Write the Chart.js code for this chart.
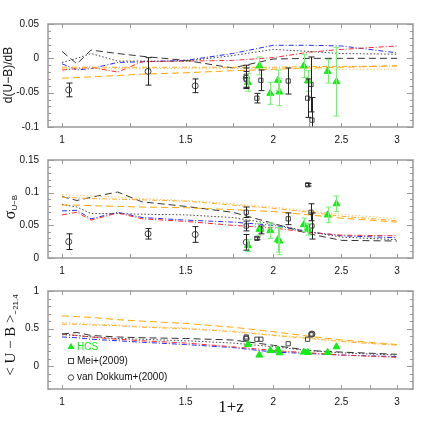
<!DOCTYPE html>
<html>
<head>
<meta charset="utf-8">
<script src="https://cdn.jsdelivr.net/npm/chart.js@4.4.1/dist/chart.umd.min.js"></script>
<style>
html, body { margin: 0; padding: 0; background: #fff; }
#wrap { position: relative; width: 436px; height: 436px; }
canvas { position: absolute; left: 0; }
</style>
</head>
<body>
<div id="wrap">
  <canvas id="c1" width="436" height="145" style="top:0px"></canvas>
  <canvas id="c2" width="436" height="131" style="top:145px"></canvas>
  <canvas id="c3" width="436" height="160" style="top:276px"></canvas>
</div>
<script>
// redshift nodes (1+z) of the model curves
const xNodes = [1.0, 1.05, 1.1, 1.2, 1.3, 1.5, 1.75, 2.0, 2.25, 2.5, 3.0];

// x axis ticks
const xTicks = [1, 1.25, 1.5, 1.75, 2, 2.25, 2.5, 2.75, 3];
const xLabels = [1, 1.5, 2, 2.5, 3];

// panel 1: slope d(U-B)/dB
const slopeBlackDashed = [0.010, -0.008, 0.012, 0.007, 0.003, -0.003, -0.014, -0.001, 0.0, 0.0, 0.0];
const slopeBlackDotted = [-0.006, 0.0, 0.007, -0.004, -0.004, -0.004, 0.004, 0.013, 0.010, 0.007, 0.006];
const slopeBlue = [-0.008, -0.017, -0.015, -0.006, -0.005, -0.003, 0.007, 0.019, 0.019, 0.018, 0.008];
const slopeRed = [-0.017, -0.015, -0.013, -0.020, -0.005, -0.004, -0.003, 0.001, 0.009, 0.013, 0.018];
const slopeOrangeDashed = [-0.029, -0.028, -0.027, -0.025, -0.023, -0.021, -0.018, -0.016, -0.014, -0.013, -0.011];
const slopeOrangeDashDot = [-0.013, -0.013, -0.013, -0.013, -0.013, -0.013, -0.013, -0.013, -0.012, -0.012, -0.011];
const slopeOrangeDotted = [-0.015, -0.015, -0.015, -0.015, -0.015, -0.015, -0.015, -0.015, -0.015, -0.016, -0.016];

// panel 2: scatter sigma(U-B)
const sigBlackDashed = [0.094, 0.088, 0.093, 0.101, 0.086, 0.079, 0.070, 0.053, 0.037, 0.027, 0.026];
const sigBlackDotted = [0.082, 0.078, 0.068, 0.068, 0.067, 0.066, 0.062, 0.052, 0.040, 0.032, 0.028];
const sigBlue = [0.072, 0.073, 0.060, 0.070, 0.062, 0.058, 0.055, 0.050, 0.040, 0.034, 0.031];
const sigRed = [0.066, 0.070, 0.058, 0.069, 0.060, 0.056, 0.050, 0.046, 0.039, 0.035, 0.034];
const sigOrangeDashed = [0.081, 0.081, 0.080, 0.079, 0.078, 0.077, 0.074, 0.071, 0.066, 0.061, 0.055];
const sigOrangeDashDot = [0.093, 0.092, 0.091, 0.090, 0.089, 0.087, 0.081, 0.076, 0.070, 0.064, 0.057];
const sigOrangeDotted = [0.097, 0.096, 0.095, 0.093, 0.091, 0.088, 0.083, 0.078, 0.072, 0.067, 0.060];

// panel 3: mean colour <U-B> at M = -21.4
const colBlackDashed = [0.43, 0.45, 0.41, 0.39, 0.38, 0.37, 0.35, 0.28, 0.21, 0.19, 0.16];
const colBlackDotted = [0.42, 0.41, 0.39, 0.37, 0.36, 0.34, 0.31, 0.26, 0.21, 0.18, 0.15];
const colBlue = [0.39, 0.38, 0.36, 0.34, 0.32, 0.29, 0.25, 0.19, 0.17, 0.15, 0.13];
const colRed = [0.43, 0.41, 0.39, 0.36, 0.34, 0.31, 0.26, 0.21, 0.18, 0.15, 0.12];
const colOrangeDashed = [0.67, 0.66, 0.65, 0.62, 0.60, 0.57, 0.52, 0.46, 0.40, 0.35, 0.29];
const colOrangeDashDot = [0.56, 0.56, 0.55, 0.54, 0.52, 0.50, 0.46, 0.41, 0.37, 0.33, 0.28];
const colOrangeDotted = [0.58, 0.57, 0.56, 0.55, 0.53, 0.51, 0.47, 0.42, 0.38, 0.34, 0.29];

// HCS clusters
const hcsZ = [1.84, 1.91, 1.98, 2.03, 2.04, 2.21, 2.24, 2.39, 2.46];
const hcsSlope = [-0.035, -0.011, -0.051, -0.032, -0.049, -0.011, -0.033, -0.019, -0.034];
const hcsSlopeErr = [0.013, 0.013, 0.016, 0.015, 0.020, 0.017, 0.015, 0.017, 0.050];
const hcsSig = [0.019, 0.044, 0.042, 0.028, 0.026, 0.051, 0.044, 0.066, 0.083];
const hcsSigErr = [0.009, 0.009, 0.012, 0.019, 0.021, 0.010, 0.009, 0.012, 0.012];
const hcsCol = [0.29, 0.15, 0.21, 0.22, 0.18, 0.19, 0.185, 0.185, 0.26];

// Mei+(2009)
const meiZ = [1.83, 1.83, 1.895, 1.92, 2.10, 2.238, 2.263, 2.27];
const meiSlope = [-0.026, -0.031, -0.058, -0.032, -0.033, -0.058, -0.038, -0.090];
const meiSlopeErr = [0.016, 0.012, 0.007, 0.015, 0.019, 0.028, 0.040, 0.033];
const meiSig = [0.070, 0.049, 0.030, 0.043, 0.060, 0.112, 0.070, 0.049];
const meiSigErr = [0.008, 0.0075, 0.002, 0.006, 0.009, 0.002, 0.013, 0.020];
const meiCol = [0.39, 0.37, 0.36, 0.36, 0.30, 0.36, 0.42, 0.43];

// van Dokkum+(2000)
const vdZ = [1.022, 1.326, 1.548, 1.83];
const vdSlope = [-0.046, -0.019, -0.040, -0.029];
const vdSlopeErr = [0.010, 0.020, 0.010, 0.015];
const vdSig = [0.025, 0.037, 0.036, 0.024];
const vdSigErr = [0.012, 0.008, 0.012, 0.012];
const vdColZ = [1.83, 2.27];
const vdCol = [0.37, 0.43];

function model(ys, color, dash) {
    return {
        type: 'line',
        data: xNodes.map((x, i) => ({x: x, y: ys[i]})),
        borderColor: color,
        borderDash: dash,
        borderWidth: 1,
        pointRadius: 0,
        showLine: true,
        fill: false,
        tension: 0,
        order: 5
    };
}

function points(xs, ys, errs, style, color, filled, errColor) {
    return {
        type: 'scatter',
        data: xs.map((x, i) => ({x: x, y: ys[i]})),
        errorBars: errs,
        errorColor: errColor,
        pointStyle: style,
        pointRadius: style === 'triangle' ? 4 : 3,
        pointBorderWidth: 1,
        borderColor: color,
        backgroundColor: filled ? color : 'rgba(0,0,0,0)',
        order: 1
    };
}

function models(bd, bdot, blue, red, od, odd, odot) {
    return [
        model(odot, '#ffc766', [1.5, 2]),
        model(odd, '#ffaa22', [5, 2, 1, 2]),
        model(od, '#ffa500', [7, 4]),
        model(bdot, '#444444', [1.5, 2]),
        model(bd, '#333333', [7, 4]),
        model(red, '#ff2a2a', [5, 2, 1, 2]),
        model(blue, '#2a2aff', [5, 2, 1, 2])
    ];
}

const GREEN = '#11ee11';

const panelDecor = {
    id: 'panelDecor',
    afterDatasetsDraw(chart) {
        const ctx = chart.ctx, a = chart.chartArea, x = chart.scales.x, y = chart.scales.y;
        ctx.save();
        ctx.beginPath();
        ctx.rect(a.left, a.top, a.right - a.left, a.bottom - a.top);
        ctx.clip();
        chart.data.datasets.forEach(ds => {
            if (!ds.errorBars) return;
            ctx.strokeStyle = ds.errorColor;
            ctx.lineWidth = 1;
            ds.data.forEach((p, j) => {
                const e = ds.errorBars[j];
                const px = Math.round(x.getPixelForValue(p.x)) + 0.5;
                const y1 = y.getPixelForValue(p.y - e), y2 = y.getPixelForValue(p.y + e);
                ctx.beginPath();
                ctx.moveTo(px, y1); ctx.lineTo(px, y2);
                ctx.moveTo(px - 3, y1); ctx.lineTo(px + 3, y1);
                ctx.moveTo(px - 3, y2); ctx.lineTo(px + 3, y2);
                ctx.stroke();
            });
        });
        ctx.restore();
    },
    afterDraw(chart, args, opts) {
        const ctx = chart.ctx, a = chart.chartArea, x = chart.scales.x, y = chart.scales.y;
        ctx.save();
        // inward ticks on all four sides
        ctx.strokeStyle = '#999';
        ctx.lineWidth = 1;
        ctx.beginPath();
        xTicks.forEach(v => {
            const px = Math.round(x.getPixelForValue(v)) + 0.5;
            ctx.moveTo(px, a.top); ctx.lineTo(px, a.top + 4);
            ctx.moveTo(px, a.bottom); ctx.lineTo(px, a.bottom - 4);
        });
        opts.yMinor.forEach(v => {
            const py = Math.round(y.getPixelForValue(v)) + 0.5;
            const len = opts.yMajor.some(m => Math.abs(m - v) < 1e-9) ? 6 : 3;
            ctx.moveTo(a.left, py); ctx.lineTo(a.left + len, py);
            ctx.moveTo(a.right, py); ctx.lineTo(a.right - len, py);
        });
        ctx.stroke();
        // frame
        ctx.lineWidth = 1.5;
        ctx.strokeRect(a.left, a.top, a.right - a.left, a.bottom - a.top);

        // y title with subscript parts
        ctx.fillStyle = '#111';
        ctx.save();
        ctx.translate(opts.titleX, opts.titleY);
        ctx.rotate(-Math.PI / 2);
        ctx.textBaseline = 'middle';
        let total = 0;
        opts.title.forEach(p => { ctx.font = p.font; total += ctx.measureText(p.text).width; });
        let pos = -total / 2;
        opts.title.forEach(p => {
            ctx.font = p.font;
            ctx.fillText(p.text, pos, p.dy || 0);
            pos += ctx.measureText(p.text).width;
        });
        ctx.restore();

        if (opts.xTitle) {
            ctx.font = '17px "Liberation Serif"';
            ctx.textAlign = 'center';
            ctx.textBaseline = 'middle';
            ctx.fillText(opts.xTitle, 231, opts.xTitleY);
        }

        if (opts.legend) {
            ctx.font = '10px "Liberation Sans"';
            ctx.textAlign = 'left';
            ctx.textBaseline = 'middle';
            const lx = 71, tx = 77;
            // HCS
            ctx.fillStyle = GREEN;
            ctx.beginPath();
            ctx.moveTo(lx, 66.7); ctx.lineTo(lx + 3.5, 73); ctx.lineTo(lx - 3.5, 73); ctx.closePath();
            ctx.fill();
            ctx.fillText('HCS', tx, 71);
            ctx.strokeStyle = '#444';
            ctx.lineWidth = 1;
            ctx.fillStyle = '#111';
            ctx.strokeRect(lx - 2.5, 82.5, 5, 5);
            ctx.fillText('Mei+(2009)', tx, 85.5);
            ctx.beginPath();
            ctx.arc(lx, 101.5, 2.7, 0, Math.PI * 2);
            ctx.stroke();
            ctx.fillText('van Dokkum+(2000)', tx, 101.5);
        }
        ctx.restore();
    }
};

function range(lo, hi, step) {
    const out = [];
    for (let v = lo; v <= hi + step / 2; v += step) out.push(Math.round(v / step) * step);
    return out;
}

function makePanel(id, datasets, yMin, yMax, yMajor, yMinorStep, padTop, xAxisH, decor) {
    decor.yMajor = yMajor;
    decor.yMinor = range(yMin, yMax, yMinorStep);
    return new Chart(document.getElementById(id).getContext('2d'), {
        type: 'scatter',
        data: {datasets: datasets},
        options: {
            responsive: false,
            animation: false,
            events: [],
            layout: {padding: {left: 0, right: 23, top: padTop, bottom: 0}},
            plugins: {legend: {display: false}, tooltip: {enabled: false}, panelDecor: decor},
            scales: {
                x: {
                    type: 'logarithmic',
                    min: Math.pow(10, -0.02),
                    max: Math.pow(10, 0.5),
                    afterBuildTicks: s => { s.ticks = xTicks.map(v => ({value: v})); },
                    afterFit: s => { s.height = xAxisH; },
                    grid: {display: false, drawTicks: false, tickLength: 0},
                    border: {display: false},
                    ticks: {
                        autoSkip: false,
                        maxRotation: 0,
                        padding: 7,
                        color: '#111',
                        font: {family: '"Liberation Sans"', size: 10},
                        callback: v => xLabels.includes(v) ? String(v) : ''
                    }
                },
                y: {
                    min: yMin,
                    max: yMax,
                    afterBuildTicks: s => { s.ticks = yMajor.map(v => ({value: v})); },
                    afterFit: s => { s.width = 48; },
                    grid: {display: false, drawTicks: false, tickLength: 0},
                    border: {display: false},
                    ticks: {
                        padding: 9,
                        color: '#111',
                        font: {family: '"Liberation Sans"', size: 10},
                        callback: v => String(+v.toFixed(2))
                    }
                }
            }
        },
        plugins: [panelDecor]
    });
}

makePanel('c1', [
    points(hcsZ, hcsSlope, hcsSlopeErr, 'triangle', GREEN, true, '#77f077'),
    points(meiZ, meiSlope, meiSlopeErr, 'rect', '#444', false, '#222'),
    points(vdZ, vdSlope, vdSlopeErr, 'circle', '#444', false, '#222'),
    ...models(slopeBlackDashed, slopeBlackDotted, slopeBlue, slopeRed, slopeOrangeDashed, slopeOrangeDashDot, slopeOrangeDotted)
], -0.1, 0.05, [-0.1, -0.05, 0, 0.05], 0.01, 24, 18, {
    titleX: 9, titleY: 75,
    title: [{text: 'd(U\u2212B)/dB', font: '12px "Liberation Sans"'}]
});

makePanel('c2', [
    points(hcsZ, hcsSig, hcsSigErr, 'triangle', GREEN, true, '#77f077'),
    points(meiZ, meiSig, meiSigErr, 'rect', '#444', false, '#222'),
    points(vdZ, vdSig, vdSigErr, 'circle', '#444', false, '#222'),
    ...models(sigBlackDashed, sigBlackDotted, sigBlue, sigRed, sigOrangeDashed, sigOrangeDashDot, sigOrangeDotted)
], 0, 0.15, [0, 0.05, 0.1, 0.15], 0.01, 10, 18, {
    titleX: 11, titleY: 62,
    title: [{text: '\u03c3', font: '16px "Liberation Serif"'},
            {text: 'U\u2212B', font: '8px "Liberation Sans"', dy: 4}]
});

makePanel('c3', [
    points(hcsZ, hcsCol, null, 'triangle', GREEN, true, GREEN),
    points(meiZ, meiCol, null, 'rect', '#444', false, '#222'),
    points(vdColZ, vdCol, null, 'circle', '#444', false, '#222'),
    ...models(colBlackDashed, colBlackDotted, colBlue, colRed, colOrangeDashed, colOrangeDashDot, colOrangeDotted)
], -0.3, 1, [0, 0.5, 1], 0.1, 9, 47, {
    titleX: 11, titleY: 59,
    title: [{text: '< U \u2212 B >', font: '15px "Liberation Serif"'},
            {text: '\u221221.4', font: '8px "Liberation Sans"', dy: 5}],
    xTitle: '1+z', xTitleY: 132,
    legend: true
});
</script>
</body>
</html>
